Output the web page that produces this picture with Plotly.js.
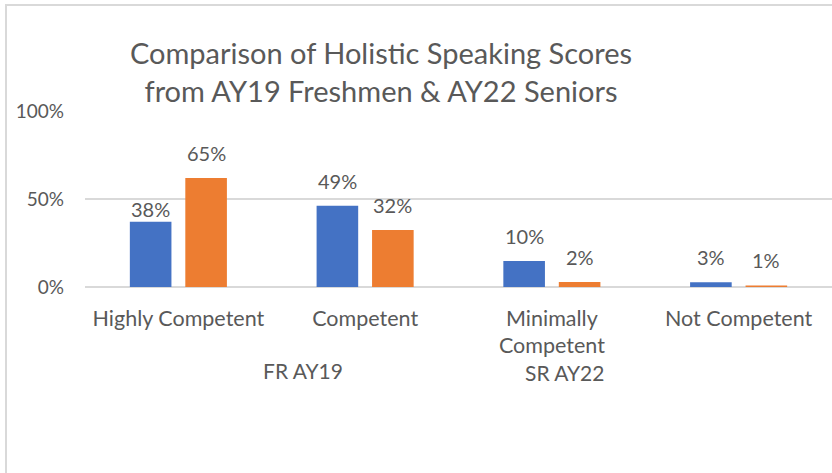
<!DOCTYPE html>
<html>
<head>
<meta charset="utf-8">
<script src="https://cdn.plot.ly/plotly-3.0.1.min.js"></script>
<style>
  html, body { margin: 0; padding: 0; background: #fff; }
  #wrap { position: relative; width: 832px; height: 473px; overflow: hidden; }
  #chart { position: absolute; left: 0; top: 0; width: 832px; height: 473px; }
  .frameTop { position: absolute; left: 5px; top: 4px; width: 827px; height: 2px; background: #D9D9D9; }
  .frameLeft { position: absolute; left: 5px; top: 4px; width: 2px; height: 469px; background: #D9D9D9; }
</style>
</head>
<body>
<div id="wrap">
  <div id="chart"></div>
  <div class="frameTop"></div>
  <div class="frameLeft"></div>
</div>
<script>
// ---- data ----
const categories = ["Highly Competent", "Competent", "Minimally<br>Competent", "Not Competent"];
const seriesNames = ["FR AY19", "SR AY22"];
const frValues = [37.1, 46.2, 14.8, 2.7];
const srValues = [62.0, 32.4, 2.9, 0.9];
const frLabels = ["38%", "49%", "10%", "3%"];
const srLabels = ["65%", "32%", "2%", "1%"];
const yTickVals = [0, 50, 100];
const yTickText = ["0%", "50%", "100%"];

// ---- styles ----
const BLUE = "#4472C4", ORANGE = "#ED7D31", TXT = "#595959", GRID = "#D9D9D9";
const FONT = "Lato, 'Open Sans', sans-serif";

const traces = [
  { type: "bar", name: seriesNames[0], x: categories, y: frValues, marker: { color: BLUE }, hoverinfo: "none" },
  { type: "bar", name: seriesNames[1], x: categories, y: srValues, marker: { color: ORANGE }, hoverinfo: "none" }
];

const annotations = [];
const barShift = 27.75;
categories.forEach((c, i) => {
  annotations.push({ x: c, y: frValues[i], xref: "x", yref: "y", text: frLabels[i], showarrow: false,
    xshift: -barShift, yshift: i === 0 ? 13 : 25, yanchor: "middle", font: { family: FONT, size: 20, color: TXT } });
  annotations.push({ x: c, y: srValues[i], xref: "x", yref: "y", text: srLabels[i], showarrow: false,
    xshift: barShift, yshift: 25, yanchor: "middle", font: { family: FONT, size: 20, color: TXT } });
});
// legend texts (keys not shown in the reference)
annotations.push({ xref: "paper", yref: "paper", x: (303 - 85) / 747, y: -(371 - 287.5) / 176.5, text: seriesNames[0],
  showarrow: false, xanchor: "center", yanchor: "middle", font: { family: FONT, size: 21, color: TXT } });
annotations.push({ xref: "paper", yref: "paper", x: (606 - 85) / 747, y: -(373 - 287.5) / 176.5, text: seriesNames[1],
  showarrow: false, xanchor: "right", yanchor: "middle", font: { family: FONT, size: 21, color: TXT } });

const layout = {
  width: 832, height: 473,
  margin: { l: 85, r: 0, t: 111, b: 186, pad: 0 },
  paper_bgcolor: "#fff", plot_bgcolor: "#fff",
  font: { family: FONT, color: TXT },
  showlegend: false,
  barmode: "group",
  bargap: 0.406,
  bargroupgap: 0.25,
  title: {
    text: "Comparison of Holistic Speaking Scores<br>from AY19 Freshmen &amp; AY22 Seniors",
    font: { family: FONT, size: 29, color: TXT },
    xref: "container", yref: "container",
    x: 381 / 832, xanchor: "center",
    y: 1 - 64 / 473, yanchor: "middle"
  },
  xaxis: {
    type: "category",
    showgrid: false, zeroline: false, showline: false,
    ticks: "", ticklabelstandoff: 16,
    tickfont: { family: FONT, size: 21.5, color: TXT },
    fixedrange: true
  },
  yaxis: {
    range: [0, 100],
    tickvals: yTickVals, ticktext: yTickText,
    showgrid: true, gridcolor: GRID, gridwidth: 1.5,
    zeroline: true, zerolinecolor: GRID, zerolinewidth: 2,
    showline: false, ticks: "", ticklabelstandoff: 20,
    tickfont: { family: FONT, size: 19, color: TXT },
    fixedrange: true
  },
  annotations: annotations
};

Plotly.newPlot("chart", traces, layout, { displayModeBar: false, staticPlot: true });
</script>
</body>
</html>
